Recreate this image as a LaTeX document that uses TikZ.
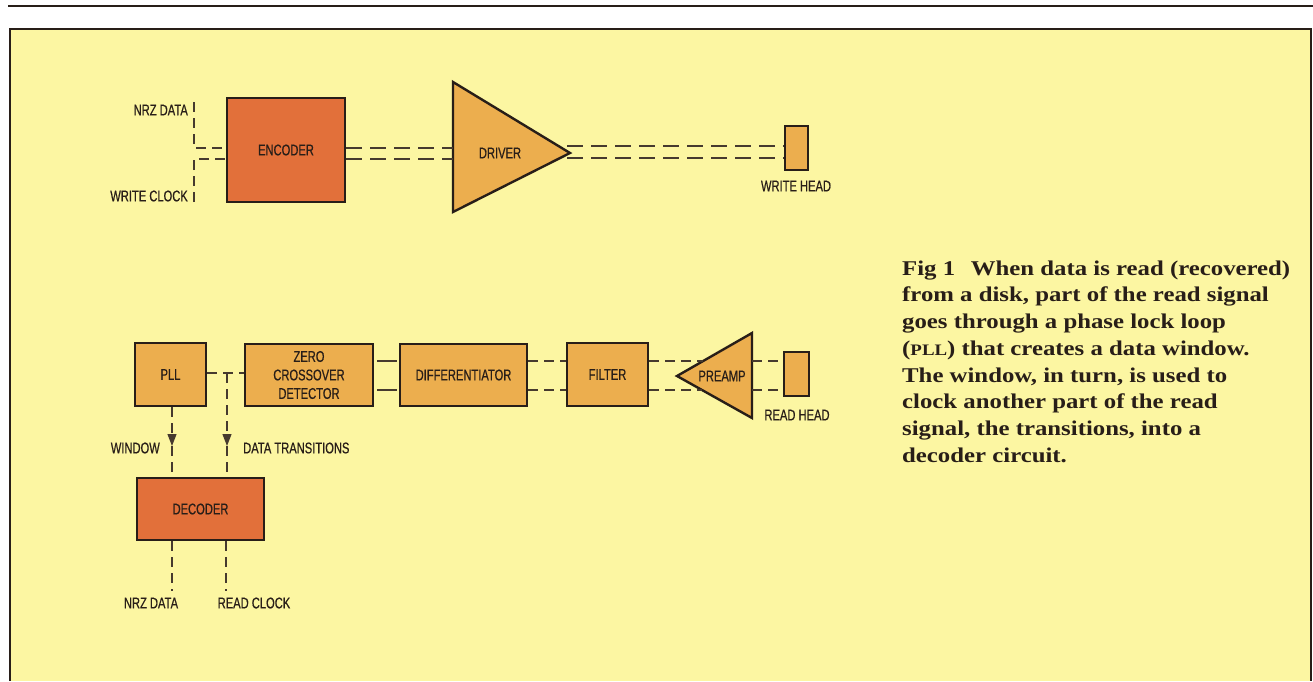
\documentclass[tikz,border=0pt]{standalone}
\usepackage{fontspec}
\setmainfont{Liberation Serif}
\newfontfamily\lblfont[FakeStretch=0.72,FakeBold=0.6]{Liberation Sans}
\newfontfamily\capfont[FakeStretch=1.18]{Liberation Serif}
\usetikzlibrary{arrows.meta,calc}
\definecolor{paper}{RGB}{252,246,162}
\definecolor{darkor}{RGB}{226,112,58}
\definecolor{lightor}{RGB}{236,174,78}
\definecolor{ink}{RGB}{40,30,24}
\definecolor{dashc}{RGB}{70,58,46}
\newcommand{\lblsize}{\fontsize{15.5}{18.5}\selectfont\lblfont}
\begin{document}
\begin{tikzpicture}[x=1pt,y=-1pt,
  box/.style={draw=ink, line width=2.4pt, inner sep=0pt, font=\lblsize, text=ink, align=center},
  tri/.style={draw=ink, line width=2.4pt, fill=lightor, line join=miter},
  lbl/.style={font=\lblsize, text=ink, inner sep=0pt},
  dl/.style={draw=dashc, line width=1.2pt, dash pattern=on 16pt off 8pt},
  vd/.style={draw=dashc, line width=1.2pt, dash pattern=on 10pt off 6pt},
  sl/.style={draw=dashc, line width=1.2pt},
  tip/.style={-{Triangle[length=12pt,width=9pt]}}
]
\useasboundingbox (0,0) rectangle (1313,681);
% page rule and frame
\draw[ink, line width=1.5pt] (8,6) -- (1313,6);
\fill[paper] (10,29) rectangle (1311,681);
\draw[ink, line width=2.6pt] (10,681) -- (10,29) -- (1311,29) -- (1311,681);

% ---------- write path ----------
\node[box, fill=darkor, minimum width=118pt, minimum height=104pt] (enc) at (286,150) {ENCODER};
\node[lbl, anchor=east] (nrzin) at (188,110) {NRZ DATA};
\node[lbl, anchor=east] (wclk) at (188,196) {WRITE CLOCK};
\coordinate (nrzT) at (194,102);
\coordinate (wclkT) at (194,202);
\draw[vd] (nrzT) |- (enc.west |- 0,148);
\draw[vd] (wclkT) |- (enc.west |- 0,159);

\draw[tri] (453,82) -- (453,212) -- (570,153) -- cycle;
\node[lbl] (drv) at (500,153) {DRIVER};
\coordinate (drvA) at (453,148);
\coordinate (drvB) at (453,159);
\coordinate (drvO1) at (567,146);
\coordinate (drvO2) at (567,158);
\draw[dl] (enc.east |- drvA) -- (drvA);
\draw[dl] (enc.east |- drvB) -- (drvB);

\node[box, fill=lightor, minimum width=23pt, minimum height=44pt] (wh) at (796.5,148) {};
\node[lbl] (whl) at (796,186) {WRITE HEAD};
\draw[dl] (drvO1) -- (wh.west |- drvO1);
\draw[dl] (drvO2) -- (wh.west |- drvO2);

% ---------- read path ----------
\node[box, fill=lightor, minimum width=71pt, minimum height=63pt] (pll) at (170.5,374.5) {PLL};
\node[box, fill=lightor, minimum width=128pt, minimum height=62pt] (zcd) at (309,375) {ZERO\\CROSSOVER\\DETECTOR};
\node[box, fill=lightor, minimum width=127pt, minimum height=62pt] (diff) at (463.5,375) {DIFFERENTIATOR};
\node[box, fill=lightor, minimum width=81pt, minimum height=63pt] (filt) at (607.5,374.5) {FILTER};
\draw[tri] (677,376) -- (752,333) -- (752,418) -- cycle;
\node[lbl] (pre) at (722,376) {PREAMP};
\node[box, fill=lightor, minimum width=25pt, minimum height=44pt] (rh) at (796.5,374) {};
\node[lbl] (rhl) at (797,415) {READ HEAD};

\coordinate (preU) at (703,361);
\coordinate (preL) at (702,390);
\coordinate (preRU) at (752,361);
\coordinate (preRL) at (752,390);

\draw[sl, shorten <=3pt, shorten >=2pt] (zcd.east |- preU) -- (diff.west |- preU);
\draw[sl, shorten <=3pt, shorten >=2pt] (zcd.east |- preL) -- (diff.west |- preL);
\draw[vd] (diff.east |- preU) -- (filt.west |- preU);
\draw[vd] (diff.east |- preL) -- (filt.west |- preL);
\draw[vd] (filt.east |- preU) -- (preU);
\draw[vd] (filt.east |- preL) -- (preL);
\draw[vd] (preRU) -- (rh.west |- preRU);
\draw[vd] (preRL) -- (rh.west |- preRL);

\coordinate (tap) at (227,373);
\draw[vd] (pll.east |- tap) -- (zcd.west |- tap);
\draw[sl] ($(tap)+(-4,0)$) -- ($(tap)+(4,0)$);

\node[box, fill=darkor, minimum width=127pt, minimum height=62pt] (dec) at (200.5,509) {DECODER};
\coordinate (arrW) at (172,446);
\coordinate (arrD) at (227,446);
\draw[vd, tip] (pll.south -| arrW) -- (arrW);
\draw[vd, tip] (tap) -- (arrD);
\draw[vd] (arrW) -- (dec.north -| arrW);
\draw[vd] (arrD) -- (dec.north -| arrD);
\node[lbl, anchor=east] (win) at (160,448) {WINDOW};
\node[lbl, anchor=west] (dtr) at (243,448) {DATA TRANSITIONS};

\coordinate (nrzO) at (172,591);
\coordinate (rclkO) at (226,591);
\draw[vd] (dec.south -| nrzO) -- (nrzO);
\draw[vd] (dec.south -| rclkO) -- (rclkO);
\node[lbl] (nrzout) at (151,603) {NRZ DATA};
\node[lbl] (rclk) at (254,603) {READ CLOCK};

% ---------- caption ----------
\node[anchor=north west, inner sep=0pt, align=left, text=ink,
      font=\fontsize{21}{26.7}\selectfont\capfont\bfseries] (cap) at (902,260.5)
{Fig 1\hspace{0.45em} When data is read (recovered)\\
from a disk, part of the read signal\\
goes through a phase lock loop\\
({\fontsize{16}{18}\selectfont PLL}) that creates a data window.\\
The window, in turn, is used to\\
clock another part of the read\\
signal, the transitions, into a\\
decoder circuit.};
\end{tikzpicture}
\end{document}
